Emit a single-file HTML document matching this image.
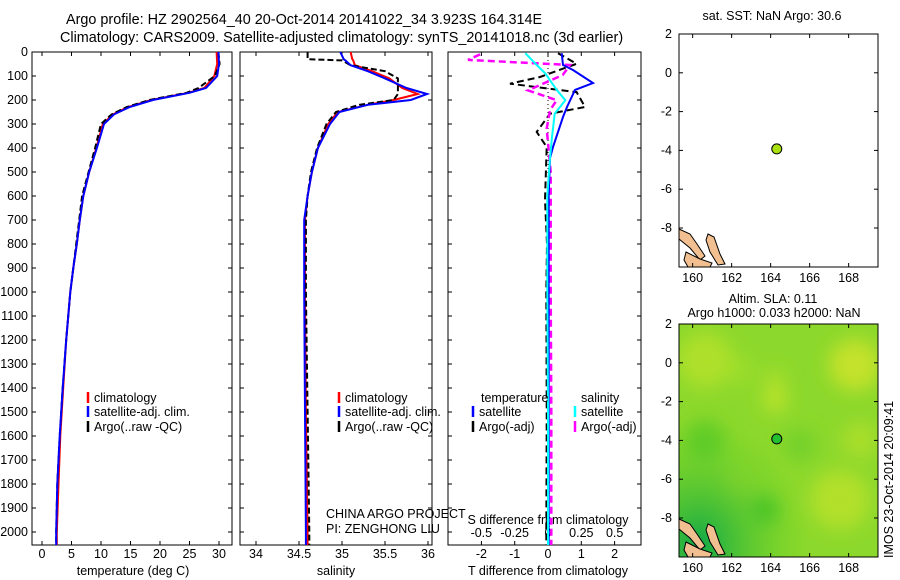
<!DOCTYPE html>
<html><head><meta charset="utf-8">
<style>
html,body{margin:0;padding:0;background:#fff;}
svg{display:block;font-family:"Liberation Sans",sans-serif;}
text{font-size:12.5px;fill:#000;}
</style></head>
<body>
<svg id="fig" width="900" height="580" viewBox="0 0 900 580" xmlns="http://www.w3.org/2000/svg">
<text x="66" y="24" style="font-size:14.4px">Argo profile: HZ 2902564_40 20-Oct-2014 20141022_34 3.923S 164.314E</text>
<text x="60" y="42" style="font-size:14.4px">Climatology: CARS2009. Satellite-adjusted climatology: synTS_20141018.nc (3d earlier)</text>
<text x="772" y="20" text-anchor="middle">sat. SST: NaN Argo: 30.6</text>
<text x="773" y="303" text-anchor="middle">Altim. SLA: 0.11</text>
<text x="774" y="317" text-anchor="middle">Argo h1000: 0.033 h2000: NaN</text>
<text transform="translate(893,558) rotate(-90)">IMOS 23-Oct-2014 20:09:41</text>
<g id="p1"></g>
<g id="p2"></g>
<g id="p3"></g>
<g id="m1"></g>
<g id="m2"></g>
</svg>
<script>
// ---- data ----
const depthTicks=[0,100,200,300,400,500,600,700,800,900,1000,1100,1200,1300,1400,1500,1600,1700,1800,1900,2000];
const tempTicks=[0,5,10,15,20,25,30];
const salTicks=[34,34.5,35,35.5,36];
const tdiffTicks=[-2,-1,0,1,2];
const sdiffTicks=[-0.5,-0.25,0,0.25,0.5];
const lonTicks=[160,162,164,166,168];
const latTicks=[2,0,-2,-4,-6,-8];

const tDepth=[0,50,100,150,170,200,230,260,300,400,500,600,700,800,900,1000,1200,1400,1600,1800,2000,2054];
const tClim=[29.6,29.7,29.2,27.5,24.8,18.5,14.5,12,10.3,9.2,8,7,6.4,5.9,5.3,4.8,4.1,3.6,3.1,2.8,2.5,2.5];
const tSat=[29.9,30.0,29.7,27.8,25,18.8,14.8,12.2,10.5,9.3,8,7,6.4,5.9,5.3,4.8,4.1,3.5,3.0,2.6,2.4,2.4];
const tArgo=[29.9,30.1,29.3,26.5,24.5,18.2,14.3,11.8,10.0,9.0,7.9,6.8,6.3,5.8,5.3,4.8,4.1,3.5,3.0,2.6,2.4,2.4];

const sDepth=[0,30,35,55,80,110,150,175,200,220,250,300,400,500,600,700,1000,1500,2000,2054];
const sClim=[35.1,35.12,35.13,35.15,35.35,35.55,35.7,35.88,35.6,35.3,34.95,34.84,34.72,34.65,34.6,34.57,34.57,34.58,34.6,34.6];
const sSat=[34.98,35.02,35.04,35.1,35.3,35.5,35.75,35.99,35.8,35.3,34.97,34.86,34.72,34.65,34.6,34.56,34.56,34.57,34.58,34.58];
const sArgo=[34.6,34.6,35.0,35.1,35.5,35.65,35.65,35.65,35.6,35.2,34.93,34.82,34.71,34.64,34.6,34.58,34.58,34.6,34.62,34.62];

const dtDepth=[5,54,75,129,158,229,271,396,442,600,1000,1500,2000,2054];
const dtSat=[0.41,0.45,0.75,1.35,0.81,0.57,0.45,0.15,0.06,0.02,0.02,0.02,0.02,0.02];
const dtaDepth=[5,49,104,132,167,229,257,333,396,617,800,1000,1500,2000,2054];
const dtArgo=[0.3,0.86,-0.24,-1.14,0.86,1.11,0.06,-0.34,-0.04,-0.09,-0.03,-0.05,-0.04,-0.05,-0.05];
const dsDepth=[5,54,89,158,201,257,354,442,600,1000,1500,2054];
const dsSat=[-0.17,-0.085,-0.02,0.065,0.13,0.05,0.03,0.015,-0.005,-0.005,0.0,0.0];
const dsaDepth=[10,33,54,96,160,201,243,319,500,1000,1500,2054];
const dsArgo=[-0.51,-0.6,0.165,0.11,-0.15,0.065,0.015,-0.01,0.02,0.02,0.025,0.025];

const argoLon=164.314, argoLat=-3.923;

// ---- helpers ----
const NS="http://www.w3.org/2000/svg";
function mk(parent,tag,attrs){const e=document.createElementNS(NS,tag);for(const k in attrs)e.setAttribute(k,attrs[k]);parent.appendChild(e);return e;}
const yD=d=>52+d*0.24;
const pTop=52,pBot=545;

function frame(g,x0,x1){
  const r=mk(g,'rect',{x:x0,y:pTop,width:x1-x0,height:pBot-pTop,fill:'none',stroke:'#000','stroke-width':1});
  
  
}
function depthAxis(g,x0,x1,labels){
  depthTicks.forEach(d=>{
    const y=yD(d);
    const t1=mk(g,'line',{x1:x0,x2:x0+4,y1:y,y2:y,stroke:'#000'});
    
    
    const t2=mk(g,'line',{x1:x1-4,x2:x1,y1:y,y2:y,stroke:'#000'});
    
    
    if(labels){const t=mk(g,'text',{x:x0-4,y:y+4,'text-anchor':'end'});t.textContent=d;
      
      }
  });
}
function xAxis(g,ticks,fx,y,labelY){
  ticks.forEach(v=>{
    const x=fx(v);
    const l=mk(g,'line',{x1:x,x2:x,y1:y,y2:y-4,stroke:'#000'});
    
    
    const l2=mk(g,'line',{x1:x,x2:x,y1:pTop,y2:pTop+4,stroke:'#000'});
    
    
    const t=mk(g,'text',{x:x,y:labelY,'text-anchor':'middle'});t.textContent=v;
    
    
  });
}
function line(g,xs,ds,fx,color,w,dash,name){
  const pts=xs.map((v,i)=>fx(v).toFixed(1)+','+yD(ds[i]).toFixed(1)).join(' ');
  const p=mk(g,'polyline',{points:pts,fill:'none',stroke:color,'stroke-width':w});
  if(dash)p.setAttribute('stroke-dasharray',dash);
  
  
}
function legend(g,x,y,color,label,name){
  const l=mk(g,'line',{x1:x,x2:x,y1:y-10,y2:y+1,stroke:color,'stroke-width':2.5});
  
  
  const t=mk(g,'text',{x:x+6,y:y});t.textContent=label;
  
  
}
function label(g,x,y,txt,name,anchor){
  const t=mk(g,'text',{x:x,y:y,'text-anchor':anchor||'middle'});t.textContent=txt;
  
  
}

// ---- panel 1 ----
const p1=document.getElementById('p1');
const xT=v=>42+v*5.9;
frame(p1,32,232);depthAxis(p1,32,232,true);xAxis(p1,tempTicks,xT,pBot,558);
line(p1,tClim,tDepth,xT,'#f00',2,null,'temperature-climatology-line');
line(p1,tArgo,tDepth,xT,'#000',2,'6,3','temperature-argo-line');
line(p1,tSat,tDepth,xT,'#00f',2,null,'temperature-satellite-line');
legend(p1,88,402,'#f00','climatology','legend-climatology');
legend(p1,88,416,'#00f','satellite-adj. clim.','legend-satellite');
legend(p1,88,431,'#000','Argo(..raw -QC)','legend-argo');
label(p1,133,575,'temperature (deg C)','x-axis-title-temperature');

// ---- panel 2 ----
const p2=document.getElementById('p2');
const xS=v=>256+(v-34)*86;
frame(p2,240,432);depthAxis(p2,240,432,false);xAxis(p2,salTicks,xS,pBot,558);
line(p2,sClim,sDepth,xS,'#f00',2,null,'salinity-climatology-line');
line(p2,sArgo,sDepth,xS,'#000',2,'6,3','salinity-argo-line');
line(p2,sSat,sDepth,xS,'#00f',2,null,'salinity-satellite-line');
legend(p2,339,402,'#f00','climatology','legend-climatology');
legend(p2,339,416,'#00f','satellite-adj. clim.','legend-satellite');
legend(p2,339,431,'#000','Argo(..raw -QC)','legend-argo');
label(p2,326,518,'CHINA ARGO PROJECT','credit-project','start');
label(p2,326,533,'PI: ZENGHONG LIU','credit-pi','start');
label(p2,336,575,'salinity','x-axis-title-salinity');

// ---- panel 3 ----
const p3=document.getElementById('p3');
const xDT=v=>548+v*33.3;
const xDS=v=>548+v*133.3;
frame(p3,448,641);depthAxis(p3,448,641,false);xAxis(p3,tdiffTicks,xDT,pBot,558);
const zl=mk(p3,'line',{x1:548,x2:548,y1:pTop,y2:pBot,stroke:'#000','stroke-dasharray':'1,3'});


sdiffTicks.forEach(v=>{const t=mk(p3,'text',{x:xDS(v),y:537,'text-anchor':'middle'});t.textContent=v;
  
  });
label(p3,548,524,'S difference from climatology','s-diff-axis-title');
line(p3,dtArgo,dtaDepth,xDT,'#000',2,'7,4','t-diff-argo-line');
line(p3,dsArgo,dsaDepth,xDS,'#f0f',2.5,'7,4','s-diff-argo-line');
line(p3,dtSat,dtDepth,xDT,'#00f',2,null,'t-diff-satellite-line');
line(p3,dsSat,dsDepth,xDS,'#0ff',2,null,'s-diff-satellite-line');
label(p3,481,402,'temperature','legend-temperature-heading','start');
legend(p3,473,416,'#00f','satellite','legend-t-satellite');
legend(p3,473,431,'#000','Argo(-adj)','legend-t-argo');
label(p3,581,402,'salinity','legend-salinity-heading','start');
legend(p3,575,416,'#0ff','satellite','legend-s-satellite');
legend(p3,575,431,'#f0f','Argo(-adj)','legend-s-argo');
label(p3,548,575,'T difference from climatology','x-axis-title-tdiff');

// ---- maps ----
const lonX=v=>679+(v-159.3)*19.5;
function map(g,y0,filled){
  const latY=v=>y0+(2-v)*19.4;
  const x0=679,x1=878,y1=y0+233;
  if(filled){
    const defs=mk(g,'defs',{});
    const rg=mk(defs,'radialGradient',{id:'gA',cx:'0.1',cy:'0.95',r:'0.55'});
    mk(rg,'stop',{offset:'0','stop-color':'#10a848'});mk(rg,'stop',{offset:'1','stop-color':'#5cd020','stop-opacity':'0'});
    const fl=mk(defs,'filter',{id:'blr',x:'-0.5',y:'-0.5',width:'2',height:'2'});
    mk(fl,'feGaussianBlur',{stdDeviation:'9'});
    const cp=mk(defs,'clipPath',{id:'mclip'});
    mk(cp,'rect',{x:x0,y:y0,width:x1-x0,height:y1-y0});
    const bg=mk(g,'rect',{x:x0,y:y0,width:x1-x0,height:y1-y0,fill:'#8cd82c'});
    
    
    const bl=mk(g,'g',{filter:'url(#blr)','clip-path':'url(#mclip)'});
    const blobs=[[705,360,28,'#aee02a'],[775,400,12,'#bee42a'],[775,380,10,'#b0e02a'],[855,365,26,'#c4e22c'],[840,500,30,'#b2e02c'],[860,440,18,'#aade2c'],[705,440,20,'#62cc28'],[800,445,16,'#72d02a'],[765,510,14,'#4cc428'],[735,485,12,'#a4dc2c'],[740,370,14,'#9ede2c']];
    blobs.forEach(b=>{const c=mk(bl,'circle',{cx:b[0],cy:b[1],r:b[2],fill:b[3]});
      
      });
    const gr=mk(g,'rect',{x:x0,y:y0,width:x1-x0,height:y1-y0,fill:'url(#gA)'});
    
    
  }
  const isl=[[[679,y0+195],[690,y0+200],[697,y0+210],[705,y0+222],[700,y0+226],[690,y0+214],[679,y0+205]],
             [[708,y0+200],[714,y0+203],[720,y0+220],[725,y0+230],[718,y0+231],[710,y0+218],[706,y0+206]],
             [[686,y0+218],[700,y0+225],[712,y0+229],[710,y0+233],[688,y0+233],[684,y0+226]]];
  isl.forEach(s=>{const p=mk(g,'polygon',{points:s.map(q=>q.join(',')).join(' '),fill:'#f2c090',stroke:'#000','stroke-width':1});
    
    });
  const fr=mk(g,'rect',{x:x0,y:y0,width:x1-x0,height:y1-y0,fill:'none',stroke:'#000'});
  
  
  lonTicks.forEach(v=>{const x=lonX(v);
    const l=mk(g,'line',{x1:x,x2:x,y1:y1,y2:y1-4,stroke:'#000'});
    
    
    const l2=mk(g,'line',{x1:x,x2:x,y1:y0,y2:y0+4,stroke:'#000'});
    
    
    const t=mk(g,'text',{x:x,y:y1+15,'text-anchor':'middle'});t.textContent=v;
    
    });
  latTicks.forEach(v=>{const y=latY(v);
    const l=mk(g,'line',{x1:x0,x2:x0+4,y1:y,y2:y,stroke:'#000'});
    
    
    const l2=mk(g,'line',{x1:x1-4,x2:x1,y1:y,y2:y,stroke:'#000'});
    
    
    const t=mk(g,'text',{x:x0-7,y:y+4,'text-anchor':'end'});t.textContent=v;
    
    });
  const c=mk(g,'circle',{cx:lonX(argoLon),cy:latY(argoLat),r:5,fill:filled?'#22c030':'#a8e010',stroke:'#000'});
  
  
}
map(document.getElementById('m1'),34,false);
map(document.getElementById('m2'),324,true);
</script>
</body></html>
